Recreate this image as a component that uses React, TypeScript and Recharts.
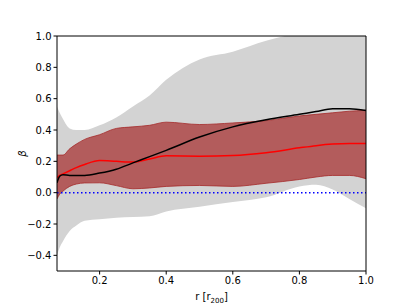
import React from "react";
import {
  ComposedChart,
  Area,
  Line,
  XAxis,
  YAxis,
  ReferenceLine,
  Label,
} from "recharts";

// radius in units of r200
const radius = [0.072, 0.08, 0.09, 0.11, 0.13, 0.155, 0.2, 0.25, 0.3, 0.35, 0.4, 0.5, 0.6, 0.7, 0.8, 0.85, 0.9, 0.95, 1.0];

// outer (grey) envelope
const outerLow = [-0.4, -0.35, -0.31, -0.245, -0.21, -0.18, -0.17, -0.16, -0.155, -0.15, -0.12, -0.09, -0.06, -0.03, 0.04, 0.05, 0.02, -0.04, -0.1];
const outerHigh = [0.55, 0.51, 0.47, 0.41, 0.4, 0.4, 0.43, 0.48, 0.55, 0.62, 0.72, 0.85, 0.9, 0.97, 1.02, 1.04, 1.05, 1.06, 1.07];

// inner (brown) envelope
const innerLow = [-0.04, -0.01, 0.01, 0.04, 0.055, 0.062, 0.063, 0.045, 0.025, 0.03, 0.04, 0.046, 0.04, 0.06, 0.084, 0.1, 0.11, 0.11, 0.089];
const innerHigh = [0.24, 0.24, 0.24, 0.28, 0.31, 0.34, 0.37, 0.41, 0.42, 0.43, 0.45, 0.435, 0.445, 0.46, 0.49, 0.5, 0.51, 0.52, 0.526];

// median profile (red) and model (black)
const median = [0.095, 0.11, 0.12, 0.14, 0.16, 0.18, 0.205, 0.2, 0.195, 0.215, 0.235, 0.233, 0.237, 0.255, 0.286, 0.3, 0.31, 0.314, 0.314];
const model = [0.063, 0.105, 0.115, 0.11, 0.11, 0.11, 0.125, 0.15, 0.19, 0.23, 0.27, 0.355, 0.42, 0.465, 0.5, 0.518, 0.535, 0.535, 0.525];

const xTicks = [0.2, 0.4, 0.6, 0.8, 1.0];
const yTicks = [-0.4, -0.2, 0.0, 0.2, 0.4, 0.6, 0.8, 1.0];

const data = radius.map((r, i) => ({
  r,
  outer: [outerLow[i], outerHigh[i]],
  inner: [innerLow[i], innerHigh[i]],
  median: median[i],
  model: model[i],
}));

const fmt = (v: number) => v.toFixed(1).replace("-", "\u2212");
const font = "DejaVu Sans";
const tickStyle = { fill: "#000", fontSize: 10, fontFamily: font };

const XTitle = (props: any) => {
  const vb = props.viewBox;
  const cx = vb.x + vb.width / 2;
  return (
    <text x={cx} y={300} textAnchor="middle" fontSize={10} fontFamily={font} fill="#000">
      r [r
      <tspan fontSize={7} dy={2.5}>200</tspan>
      <tspan dy={-2.5}>]</tspan>
    </text>
  );
};

const YTitle = (props: any) => {
  const vb = props.viewBox;
  const cy = vb.y + vb.height / 2;
  return (
    <text
      x={26}
      y={cy}
      textAnchor="middle"
      fontSize={10}
      fontFamily={font}
      fontStyle="italic"
      fill="#000"
      transform={`rotate(-90 26 ${cy})`}
    >
      {"\u03b2"}
    </text>
  );
};

export default function App() {
  return (
    <div style={{ position: "absolute", left: 0, top: 0, width: 407, height: 305, background: "#fff" }}>
      <ComposedChart
        width={407}
        height={305}
        data={data}
        margin={{ top: 36, right: 41, bottom: 0, left: 0 }}
      >
        <XAxis
          type="number"
          dataKey="r"
          domain={[0.072, 1.0]}
          ticks={xTicks}
          tickFormatter={fmt}
          allowDataOverflow
          height={34}
          tickSize={3.5}
          stroke="#000"
          tick={tickStyle}
        >
          <Label content={<XTitle />} />
        </XAxis>
        <YAxis
          type="number"
          domain={[-0.5, 1.0]}
          ticks={yTicks}
          tickFormatter={fmt}
          allowDataOverflow
          width={57}
          tickSize={3.5}
          stroke="#000"
          tick={tickStyle}
        >
          <Label content={<YTitle />} />
        </YAxis>
        <Area
          type="monotone"
          dataKey="outer"
          fill="#d3d3d3"
          fillOpacity={1}
          stroke="none"
          isAnimationActive={false}
        />
        <Area
          type="monotone"
          dataKey="inner"
          fill="#a52a2a"
          fillOpacity={0.7}
          stroke="#a52a2a"
          strokeWidth={0.8}
          isAnimationActive={false}
        />
        <ReferenceLine y={0} stroke="#0000ff" strokeWidth={1.5} strokeDasharray="1.5 2.5" />
        <Line
          type="monotone"
          dataKey="median"
          stroke="#ff0000"
          strokeWidth={1.5}
          dot={false}
          isAnimationActive={false}
        />
        <Line
          type="monotone"
          dataKey="model"
          stroke="#000"
          strokeWidth={1.5}
          dot={false}
          isAnimationActive={false}
        />
        <ReferenceLine y={1.0} stroke="#000" strokeWidth={1} />
        <ReferenceLine x={1.0} stroke="#000" strokeWidth={1} />
      </ComposedChart>
    </div>
  );
}
